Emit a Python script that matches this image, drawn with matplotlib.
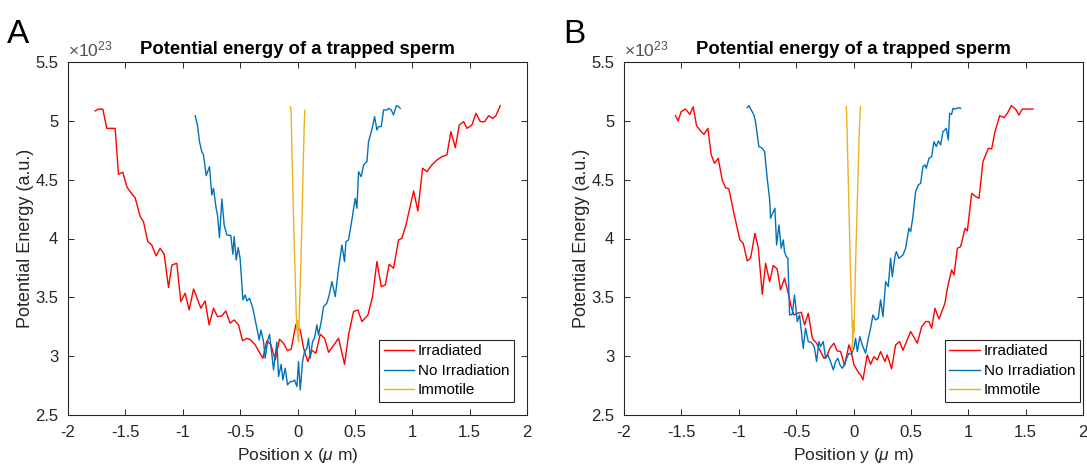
import matplotlib
matplotlib.use("Agg")
import matplotlib.pyplot as plt

plt.rcParams['font.family'] = ['Liberation Sans', 'DejaVu Sans']
plt.rcParams['mathtext.fontset'] = 'custom'
plt.rcParams['mathtext.rm'] = 'Liberation Sans'
plt.rcParams['mathtext.it'] = 'Liberation Sans:italic'
plt.rcParams['mathtext.bf'] = 'Liberation Sans:bold'
plt.rcParams['axes.unicode_minus'] = False

# ---------------- data (energies in units of 1e23) ----------------
title = "Potential energy of a trapped sperm"
ylabel = "Potential Energy (a.u.)"
xlabels = [r"Position x ($\mu$ m)", r"Position y ($\mu$ m)"]
panel_letters = ["A", "B"]
series_names = ["Irradiated", "No Irradiation", "Immotile"]
xticks = [-2, -1.5, -1, -0.5, 0, 0.5, 1, 1.5, 2]
xtick_labels = ["-2", "-1.5", "-1", "-0.5", "0", "0.5", "1", "1.5", "2"]
yticks = [2.5, 3, 3.5, 4, 4.5, 5, 5.5]
ytick_labels = ["2.5", "3", "3.5", "4", "4.5", "5", "5.5"]
exponent = 23

# Panel A (position x)
redA_x = [-1.764, -1.735, -1.697, -1.662, -1.589, -1.560, -1.522, -1.488, -1.459, -1.415,
          -1.371, -1.342, -1.305, -1.270, -1.232, -1.197, -1.162, -1.124, -1.095, -1.052,
          -1.017, -0.979, -0.944, -0.906, -0.842, -0.805, -0.770, -0.732, -0.697, -0.659,
          -0.625, -0.587, -0.552, -0.514, -0.479, -0.441, -0.407, -0.369, -0.302, -0.267,
          -0.232, -0.194, -0.157, -0.122, -0.087, -0.055, -0.014, 0.024, 0.053, 0.090,
          0.125, 0.160, 0.198, 0.236, 0.271, 0.358, 0.410, 0.445, 0.488, 0.526,
          0.561, 0.614, 0.654, 0.692, 0.730, 0.765, 0.799, 0.837, 0.881, 0.910,
          0.945, 1.012, 1.049, 1.090, 1.128, 1.171, 1.215, 1.259, 1.302, 1.337,
          1.375, 1.410, 1.448, 1.477, 1.520, 1.555, 1.593, 1.631, 1.666, 1.700,
          1.729, 1.767]
redA_y = [5.084, 5.10, 5.10, 4.936, 4.936, 4.546, 4.563, 4.441, 4.398, 4.347,
          4.186, 4.143, 3.973, 3.945, 3.852, 3.917, 3.866, 3.583, 3.775, 3.789,
          3.464, 3.535, 3.393, 3.571, 3.407, 3.469, 3.266, 3.407, 3.336, 3.342,
          3.384, 3.280, 3.308, 3.266, 3.132, 3.152, 3.138, 3.096, 2.982, 3.13,
          3.096, 2.968, 3.144, 3.110, 3.047, 3.06, 3.271, 3.223, 3.067, 2.954,
          3.05, 3.025, 3.186, 3.152, 3.033, 3.152, 2.931, 3.181, 3.379, 3.393,
          3.294, 3.350, 3.506, 3.804, 3.591, 3.605, 3.781, 3.747, 3.988, 4.002,
          4.115, 4.404, 4.234, 4.597, 4.568, 4.625, 4.667, 4.696, 4.710, 4.908,
          4.772, 4.965, 4.993, 4.936, 4.965, 5.064, 4.993, 4.993, 5.044, 5.021,
          5.044, 5.129]

blueA_x = [-0.892, -0.872, -0.854, -0.834, -0.819, -0.796, -0.767, -0.747, -0.732, -0.709,
           -0.697, -0.680, -0.659, -0.639, -0.616, -0.581, -0.563, -0.552, -0.534, -0.517,
           -0.500, -0.476, -0.456, -0.441, -0.418, -0.389, -0.354, -0.334, -0.319, -0.296,
           -0.282, -0.261, -0.244, -0.223, -0.209, -0.180, -0.165, -0.142, -0.128, -0.107,
           -0.087, -0.064, -0.043, -0.026, -0.005, 0.009, 0.024, 0.044, 0.061, 0.082,
           0.096, 0.111, 0.131, 0.148, 0.169, 0.183, 0.207, 0.227, 0.256, 0.276,
           0.300, 0.329, 0.358, 0.387, 0.410, 0.422, 0.445, 0.474, 0.503, 0.518,
           0.532, 0.555, 0.576, 0.605, 0.619, 0.643, 0.654, 0.672, 0.692, 0.706,
           0.730, 0.750, 0.779, 0.794, 0.817, 0.837, 0.861, 0.881, 0.895]
blueA_y = [5.044, 4.965, 4.823, 4.738, 4.710, 4.534, 4.611, 4.370, 4.427, 4.257,
           4.200, 4.007, 4.336, 4.115, 4.030, 4.025, 3.866, 4.016, 3.818, 3.923,
           3.832, 3.478, 3.520, 3.469, 3.492, 3.407, 3.237, 3.138, 3.223, 3.124,
           2.982, 3.124, 3.186, 3.011, 2.883, 3.12, 2.827, 2.931, 2.798, 2.897,
           2.756, 2.784, 2.784, 2.798, 2.742, 2.954, 2.713, 2.954, 3.039, 3.067,
           3.152, 2.982, 3.124, 3.152, 3.266, 3.181, 3.294, 3.421, 3.450, 3.520,
           3.634, 3.506, 3.747, 3.945, 3.804, 3.973, 3.988, 4.158, 4.342, 4.257,
           4.568, 4.526, 4.625, 4.653, 4.823, 4.908, 4.951, 5.036, 4.922, 4.951,
           4.951, 5.092, 5.092, 5.106, 5.092, 5.050, 5.129, 5.120, 5.106]

yellowA_x = [-0.062, -0.058, -0.055, -0.046, -0.035, -0.023, -0.012, -0.005, 0.000, 0.005,
             0.010, 0.013, 0.016, 0.022, 0.029, 0.040, 0.050, 0.058, 0.064]
yellowA_y = [5.12, 5.10, 5.05, 4.63, 4.20, 3.78, 3.40, 3.22, 3.30, 3.15,
             3.12, 3.25, 3.35, 3.55, 3.78, 4.20, 4.63, 4.95, 5.09]

# Panel B (position y)
redB_x = [-1.551, -1.528, -1.502, -1.464, -1.426, -1.397, -1.368, -1.333, -1.304, -1.269,
          -1.240, -1.211, -1.179, -1.144, -1.115, -1.086, -1.042, -0.990, -0.961, -0.926,
          -0.897, -0.859, -0.830, -0.795, -0.766, -0.731, -0.699, -0.665, -0.636, -0.601,
          -0.572, -0.543, -0.519, -0.490, -0.455, -0.426, -0.394, -0.359, -0.322, -0.287,
          -0.258, -0.235, -0.205, -0.171, -0.142, -0.112, -0.078, -0.040, -0.019, 0.004,
          0.047, 0.062, 0.082, 0.120, 0.149, 0.178, 0.207, 0.236, 0.274, 0.294,
          0.332, 0.367, 0.402, 0.431, 0.498, 0.556, 0.594, 0.629, 0.658, 0.681,
          0.710, 0.745, 0.797, 0.818, 0.855, 0.876, 0.905, 0.934, 0.972, 0.992,
          1.030, 1.065, 1.094, 1.128, 1.175, 1.204, 1.233, 1.274, 1.312, 1.341,
          1.376, 1.413, 1.442, 1.471, 1.515, 1.564]
redB_y = [5.044, 4.999, 5.078, 5.10, 5.055, 5.12, 4.959, 4.914, 4.885, 4.936,
          4.710, 4.639, 4.682, 4.497, 4.432, 4.421, 4.214, 3.988, 3.959, 3.809,
          3.832, 4.044, 3.923, 3.526, 3.789, 3.634, 3.770, 3.741, 3.563, 3.662,
          3.549, 3.421, 3.350, 3.365, 3.373, 3.266, 3.365, 3.152, 3.110, 3.039,
          2.982, 2.996, 3.067, 3.110, 3.045, 3.039, 2.920, 3.096, 3.039, 2.926,
          2.855, 2.841, 2.798, 3.011, 2.931, 2.996, 2.968, 3.039, 2.954, 3.011,
          2.892, 3.096, 3.124, 3.05, 3.209, 3.110, 3.251, 3.294, 3.294, 3.237,
          3.407, 3.316, 3.450, 3.577, 3.733, 3.690, 3.917, 3.931, 4.087, 4.064,
          4.384, 4.356, 4.342, 4.653, 4.767, 4.761, 4.908, 5.044, 5.027, 5.064,
          5.129, 5.10, 5.05, 5.10, 5.10, 5.10]

blueB_x = [-0.926, -0.912, -0.891, -0.868, -0.854, -0.825, -0.795, -0.775, -0.752, -0.729,
           -0.723, -0.699, -0.685, -0.670, -0.650, -0.630, -0.612, -0.601, -0.586, -0.572,
           -0.557, -0.534, -0.514, -0.490, -0.470, -0.461, -0.438, -0.418, -0.394, -0.374,
           -0.351, -0.339, -0.322, -0.301, -0.287, -0.264, -0.243, -0.223, -0.200, -0.176,
           -0.156, -0.136, -0.118, -0.098, -0.078, -0.060, -0.040, -0.019, 0.004, 0.018,
           0.033, 0.056, 0.076, 0.105, 0.129, 0.149, 0.169, 0.193, 0.216, 0.236,
           0.257, 0.280, 0.303, 0.323, 0.338, 0.361, 0.373, 0.396, 0.431, 0.454,
           0.483, 0.498, 0.518, 0.541, 0.565, 0.585, 0.605, 0.623, 0.634, 0.658,
           0.681, 0.701, 0.722, 0.739, 0.759, 0.780, 0.809, 0.826, 0.838, 0.855,
           0.867, 0.890, 0.913, 0.934]
blueB_y = [5.112, 5.129, 5.092, 5.050, 4.993, 4.781, 4.767, 4.738, 4.512, 4.313,
           4.172, 4.228, 4.257, 3.945, 4.115, 3.917, 3.988, 3.889, 3.846, 3.832,
           3.350, 3.356, 3.520, 3.294, 3.350, 3.266, 3.067, 3.237, 3.124, 3.12,
           3.096, 3.067, 2.954, 3.124, 3.081, 3.124, 2.982, 3.011, 2.954, 2.883,
           2.954, 2.982, 2.926, 2.897, 2.926, 2.982, 3.025, 3.016, 3.067, 3.152,
           3.039, 3.166, 3.096, 3.025, 3.152, 3.237, 3.350, 3.308, 3.322, 3.478,
           3.336, 3.634, 3.591, 3.832, 3.676, 3.846, 3.889, 3.832, 3.860, 3.917,
           4.087, 4.058, 4.186, 4.398, 4.455, 4.469, 4.611, 4.625, 4.597, 4.682,
           4.696, 4.823, 4.781, 4.829, 4.795, 4.908, 4.936, 4.837, 5.064, 5.055,
           5.106, 5.10, 5.112, 5.106]

yellowB_x = [-0.063, -0.060, -0.049, -0.038, -0.028, -0.018, -0.012, -0.008, -0.010, -0.004,
             0.000, 0.004, 0.008, 0.014, 0.018, 0.030, 0.042, 0.052, 0.059, 0.062]
yellowB_y = [5.12, 5.08, 4.63, 4.20, 3.78, 3.45, 3.28, 3.20, 3.05, 3.22,
             3.30, 3.20, 3.35, 3.60, 3.78, 4.20, 4.63, 4.95, 5.10, 5.12]

colors = ["#FF0000", "#0072BD", "#EDB120"]
axcol = "#262626"

panels = [
    dict(series=[(redA_x, redA_y), (blueA_x, blueA_y), (yellowA_x, yellowA_y)],
         rect=[68 / 1087, 1 - 415 / 468, 459 / 1087, 353 / 468],
         legend_anchor=(0.972, 0.037), letter_x=7 / 1087),
    dict(series=[(redB_x, redB_y), (blueB_x, blueB_y), (yellowB_x, yellowB_y)],
         rect=[624 / 1087, 1 - 415 / 468, 459 / 1087, 353 / 468],
         legend_anchor=(0.993, 0.037), letter_x=563 / 1087),
]

fig = plt.figure(figsize=(10.87, 4.68), dpi=100)

for i, p in enumerate(panels):
    ax = fig.add_axes(p["rect"])
    for (xs, ys), c, name in zip(p["series"], colors, series_names):
        ax.plot(xs, ys, color=c, lw=1.0, label=name)
    ax.set_xlim(-2, 2)
    ax.set_ylim(2.5, 5.5)
    ax.set_xticks(xticks)
    ax.set_xticklabels(xtick_labels)
    ax.set_yticks(yticks)
    ax.set_yticklabels(ytick_labels)
    ax.tick_params(direction="in", top=True, right=True, length=4, width=0.7,
                   colors=axcol, labelsize=12)
    ax.tick_params(axis="x", pad=7)
    ax.tick_params(axis="y", pad=7)
    for s in ax.spines.values():
        s.set_color(axcol)
        s.set_linewidth(0.8)
    ax.set_title(title, fontsize=13.3, fontweight="bold", color="black", pad=6)
    ax.set_xlabel(xlabels[i], fontsize=12.5, color=axcol)
    ax.xaxis.set_label_coords(0.5, -0.088)
    ax.set_ylabel(ylabel, fontsize=13, color=axcol)
    ax.yaxis.set_label_coords(-0.074, 0.5)
    ax.text(0.0, 1.016, r"$\times10^{%d}$" % exponent, transform=ax.transAxes,
            ha="left", va="baseline", fontsize=12.5, color="#505050")
    leg = ax.legend(loc="lower right", bbox_to_anchor=p["legend_anchor"],
                    borderaxespad=0, fontsize=11, frameon=True, fancybox=False,
                    framealpha=1, edgecolor=axcol, handlelength=2.0,
                    handletextpad=0.25, borderpad=0.3, labelspacing=0.36)
    leg.get_frame().set_linewidth(0.8)
    for t in leg.get_texts():
        t.set_color("black")
    fig.text(p["letter_x"], 1 - 43 / 468, panel_letters[i], fontsize=24,
             ha="left", va="baseline", color="black")

fig.savefig("out.png", dpi=100)
